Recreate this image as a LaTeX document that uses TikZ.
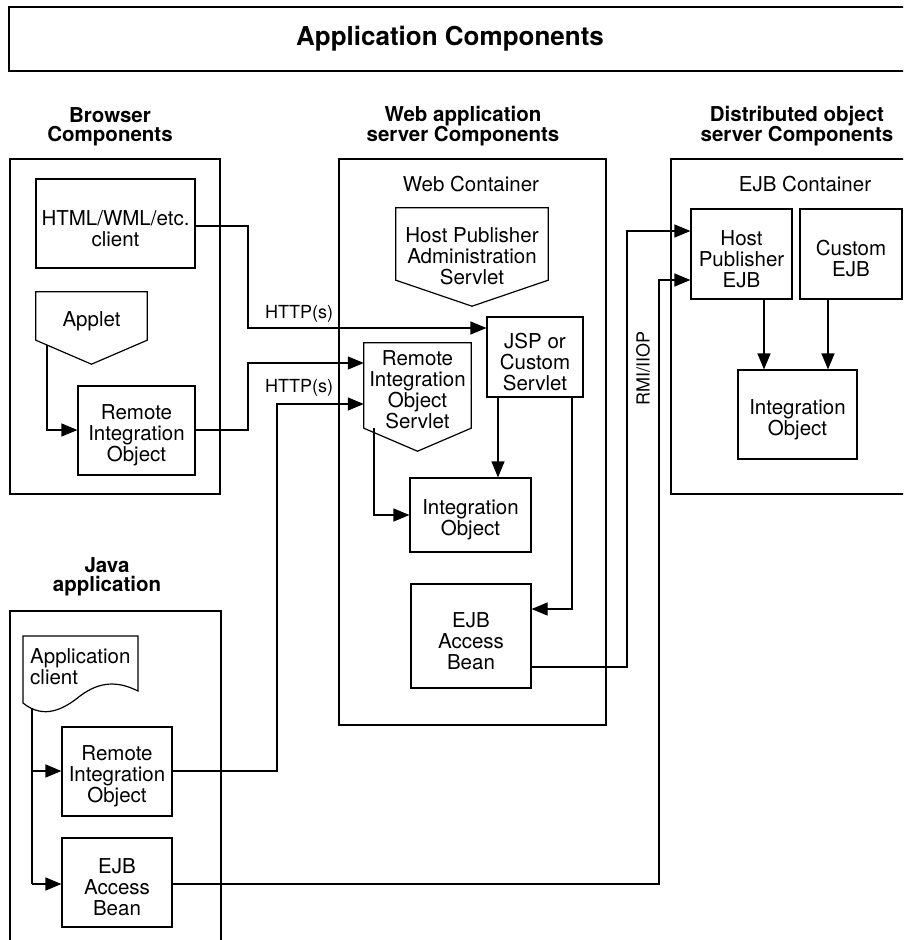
\documentclass[tikz,border=0pt]{standalone}
\usepackage{fontspec}
\setmainfont{TeX Gyre Heros}
\usetikzlibrary{arrows.meta,calc}
\begin{document}
\begin{tikzpicture}[x=1pt,y=-1pt,
  every node/.style={font=\fontsize{20.5}{21}\selectfont},
  box/.style={draw, line width=1.2pt, inner sep=0pt, align=center},
  lbl/.style={inner sep=0pt, align=center},
  txt/.style={inner sep=0pt, align=center, yshift=-5pt},
  head/.style={inner sep=0pt, align=center, font=\fontsize{20.5}{19.5}\selectfont\bfseries},
  small/.style={inner sep=0pt, font=\fontsize{18}{20}\selectfont},
  ln/.style={line width=1.2pt},
  arr/.style={line width=1.2pt, -{Triangle[length=16pt,width=13pt]}}
]
\useasboundingbox (0,0) rectangle (903,940);
\clip (0,0) rectangle (903,940);

% title box
\draw[ln] (920,7) -- (9,7) -- (9,71) -- (920,71);
\node[lbl, font=\fontsize{26}{28}\selectfont\bfseries] (title) at (450,39) {Application Components};

% headings
\node[head] (hbrowser) at (110,127) {Browser\\Components};
\node[head] (hweb) at (463,126) {Web application\\server Components};
\node[head] (hdist) at (797,126) {Distributed object\\server Components};
\node[head] (hjava) at (107,577) {Java\\application};

% Browser container
\node[box, minimum width=210pt, minimum height=335pt] (browser) at (115,326.5) {};
\node[box, minimum width=159pt, minimum height=89pt] (html) at (115.5,223.5) {};
\node[txt] (htmlT) at (html) {HTML/WML/etc.\\client};
\node[lbl, minimum width=111pt, minimum height=48pt] (applet) at (91.5,316) {};
\draw[ln] (applet.north west) -- (applet.north east) -- (applet.south east) -- ($(applet.south)+(0,24)$) -- (applet.south west) -- cycle;
\node[lbl] (appletT) at (91.5,321) {Applet};
\node[box, minimum width=117pt, minimum height=89pt] (rio1) at (136.5,430.5) {};
\node[txt] (rio1T) at (rio1) {Remote\\Integration\\Object};

% Web container
\node[box, minimum width=267pt, minimum height=566pt] (webc) at (472.5,442) {};
\node[lbl] (weblbl) at (471,184) {Web Container};
\node[lbl, minimum width=152pt, minimum height=72pt] (hpas) at (472,244) {};
\draw[ln] (hpas.north west) -- (hpas.north east) -- (hpas.south east) -- ($(hpas.south)+(0,26)$) -- (hpas.south west) -- cycle;
\node[lbl] (hpasT) at (472,256) {Host Publisher\\Administration\\Servlet};
\node[box, minimum width=96pt, minimum height=80pt] (jsp) at (535,357) {};
\node[txt] (jspT) at (jsp) {JSP or\\Custom\\Servlet};
\node[lbl, minimum width=107pt, minimum height=85pt] (rios) at (417.5,385.5) {};
\draw[ln] (rios.north west) -- (rios.north east) -- (rios.south east) -- ($(rios.south)+(0,23)$) -- (rios.south west) -- cycle;
\node[lbl] (riosT) at (417.5,390) {Remote\\Integration\\Object\\Servlet};
\node[box, minimum width=121pt, minimum height=74pt] (io1) at (470.5,515) {};
\node[txt] (io1T) at (io1) {Integration\\Object};
\node[box, minimum width=120pt, minimum height=104pt] (eab1) at (471,636) {};
\node[txt] (eab1T) at (eab1) {EJB\\Access\\Bean};

% EJB container
\draw[ln] (920,159) -- (671,159) -- (671,494) -- (920,494);
\node[lbl] (ejblbl) at (805,184) {EJB Container};
\node[box, minimum width=101pt, minimum height=90pt] (hpejb) at (741.5,254) {};
\node[txt] (hpejbT) at (hpejb) {Host\\Publisher\\EJB};
\node[box, minimum width=102pt, minimum height=90pt] (cejb) at (851,254) {};
\node[txt] (cejbT) at (cejb) {Custom\\EJB};
\node[box, minimum width=119pt, minimum height=89pt] (io2) at (797.5,414.5) {};
\node[txt] (io2T) at (io2) {Integration\\Object};

% Java application container (open at bottom)
\draw[ln] (10,950) -- (10,611) -- (221,611) -- (221,950);
\draw[ln] (23,636) -- (138,636) -- (138,691) .. controls (118,681) and (100,681) .. (80,696) .. controls (64,709) and (44,720) .. (23,703) -- cycle;
\node[lbl, align=left, anchor=north west] (appclient) at (30,648) {Application\\client};
\coordinate (docbot) at (32,708);
\node[box, minimum width=110pt, minimum height=89pt] (rio2) at (117,771.5) {};
\node[txt] (rio2T) at (rio2) {Remote\\Integration\\Object};
\node[box, minimum width=110pt, minimum height=89pt] (eab2) at (117,882.5) {};
\node[txt] (eab2T) at (eab2) {EJB\\Access\\Bean};

% connectors in browser
\draw[arr] (47,345) -- (47,430) -- (rio1.west |- 0,430);
% HTTP(s)
\draw[arr] (html.east |- 0,226) -- (248,226) -- (248,328) -- (jsp.west |- 0,328);
\node[small] (http1) at (299,314) {HTTP(s)};
\draw[arr] (rio1.east |- 0,430) -- (248,430) -- (248,363) -- (rios.west |- 0,363);
\node[small] (http2) at (299,388) {HTTP(s)};
\draw[arr] (rio2.east |- 0,771) -- (277,771) -- (277,404) -- (rios.west |- 0,404);

% web container internal
\draw[arr] (374,428) -- (374,515) -- (io1.west |- 0,515);
\draw[arr] (jsp.south -| 498,0) -- (io1.north -| 498,0);
\draw[arr] (jsp.south -| 572,0) -- (572,609) -- (eab1.east |- 0,609);

% RMI/IIOP
\draw[arr] (eab1.east |- 0,667) -- (627,667) -- (627,231) -- (hpejb.west |- 0,231);
\draw[arr] (eab2.east |- 0,884) -- (659,884) -- (659,280) -- (hpejb.west |- 0,280);
\node[small, rotate=90] (rmi) at (643,368) {RMI/IIOP};

% EJB container internal
\draw[arr] (hpejb.south -| 764,0) -- (io2.north -| 764,0);
\draw[arr] (cejb.south -| 828,0) -- (io2.north -| 828,0);

% java app internal
\draw[ln] (docbot) -- (32,884);
\draw[arr] (32,771) -- (rio2.west |- 0,771);
\draw[arr] (32,884) -- (eab2.west |- 0,884);
\end{tikzpicture}
\end{document}
